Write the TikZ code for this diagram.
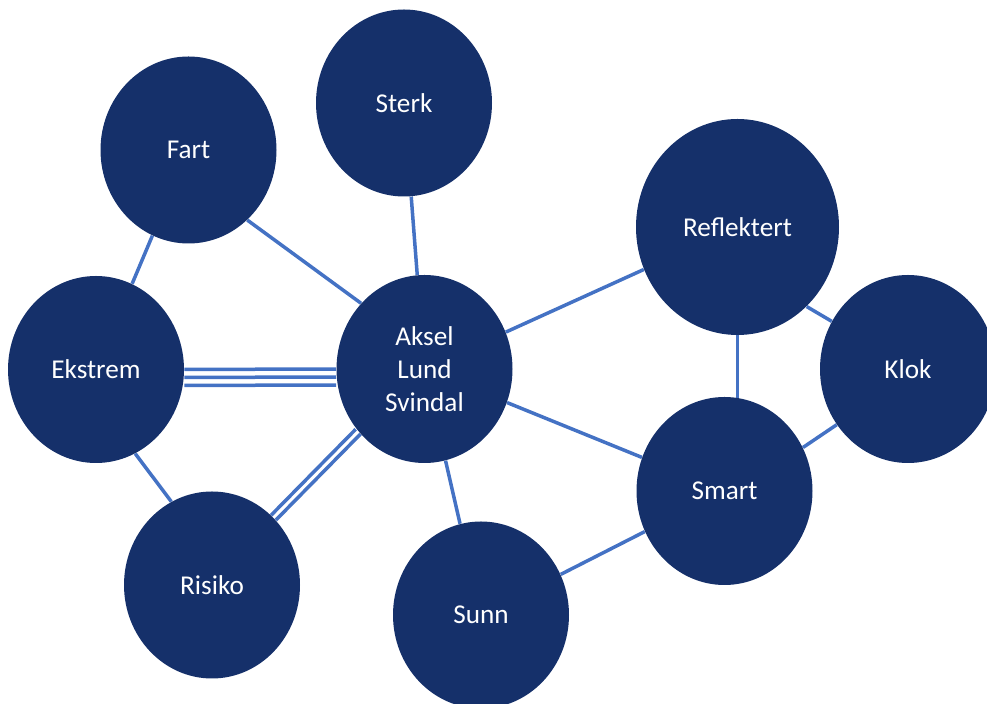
\documentclass[tikz,border=0pt]{standalone}
\usepackage{fontspec}
\newfontfamily\bubblefont{Carlito}
\usetikzlibrary{shapes.geometric,backgrounds}
\definecolor{navy}{HTML}{15306A}
\definecolor{linkblue}{HTML}{4472C4}
\tikzset{
  bubble/.style={ellipse, fill=navy, text=white, inner sep=0pt,
    minimum width=88pt, minimum height=93.5pt, align=center,
    font=\bubblefont\fontsize{13.6pt}{16.5pt}\selectfont},
  link/.style={draw=linkblue, line width=1.75pt}
}
\begin{document}
\begin{tikzpicture}[x=0.5pt, y=-0.5pt]
  \useasboundingbox (0,0) rectangle (987,704);
  \clip (0,0) rectangle (987,704);

  % word bubbles
  \node[bubble] (sterk)   at (404,103)   {Sterk};
  \node[bubble] (fart)    at (188.5,150) {Fart};
  \node[bubble, minimum width=101.5pt, minimum height=108pt] (refl) at (737.5,227) {Reflektert};
  \node[bubble] (ekstrem) at (96,369.5)  {Ekstrem};
  \node[bubble, minimum height=94pt] (aksel) at (424.5,369) {Aksel\\Lund\\Svindal};
  \node[bubble, minimum height=94pt] (klok)  at (908,369)   {Klok};
  \node[bubble, minimum height=94pt] (smart) at (724.5,491) {Smart};
  \node[bubble] (risiko)  at (212,585)   {Risiko};
  \node[bubble] (sunn)    at (481,615)   {Sunn};

  % connectors, kept behind the bubbles
  \begin{scope}[on background layer]
    \draw[link] (fart) -- (ekstrem);
    \draw[link] (fart.-50) -- (aksel.134);
    \draw[link] (sterk) -- (aksel);
    \draw[link] (ekstrem.-65) -- (risiko.116.6);
    \draw[link] (aksel) -- (refl);
    \draw[link] (aksel) -- (smart);
    \draw[link] (aksel) -- (sunn);
    \draw[link] (sunn) -- (smart);
    \draw[link] (refl.center) -- (refl.center |- smart.center);
    \draw[link] (refl.-49.4) -- (klok.148.5);
    \draw[link] (smart.29.2) -- (klok.218);
    % triple link
    \draw[link] (ekstrem) -- (aksel);
    \draw[link, transform canvas={yshift=-4pt}] (ekstrem) -- (aksel);
    \draw[link, transform canvas={yshift=-8pt}] (ekstrem) -- (aksel);
    % double link
    \draw[link] (aksel) -- (risiko);
    \draw[link, transform canvas={shift={(-2.4pt,2.4pt)}}] (aksel) -- (risiko);
  \end{scope}
\end{tikzpicture}
\end{document}
